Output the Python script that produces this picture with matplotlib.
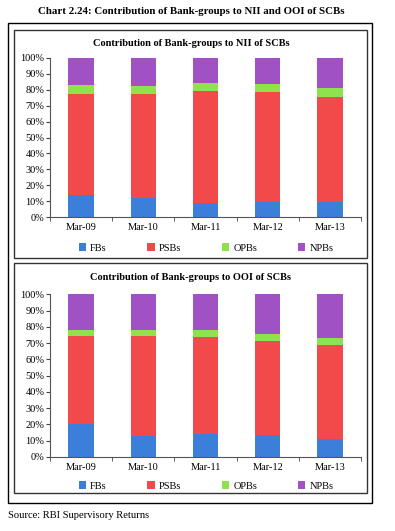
import matplotlib
matplotlib.use("Agg")
import matplotlib.pyplot as plt
from matplotlib.patches import Rectangle
import numpy as np

plt.rcParams['font.family'] = ['Liberation Serif', 'DejaVu Serif']

categories = ["Mar-09", "Mar-10", "Mar-11", "Mar-12", "Mar-13"]
series = ["FBs", "PSBs", "OPBs", "NPBs"]

# NII shares (%)
nii_fbs = [14.0, 12.3, 9.1, 9.3, 9.8]
nii_psbs = [63.5, 65.2, 69.9, 69.2, 65.8]
nii_opbs = [5.2, 4.8, 5.0, 4.8, 5.2]
nii_npbs = [17.3, 17.7, 16.0, 16.7, 19.2]

# OOI shares (%)
ooi_fbs = [20.1, 12.9, 14.1, 13.3, 11.3]
ooi_psbs = [54.5, 61.5, 59.5, 58.0, 57.6]
ooi_opbs = [3.7, 3.9, 4.3, 4.1, 4.5]
ooi_npbs = [21.7, 21.7, 22.1, 24.6, 26.6]

colors = ["#3b7fdb", "#f24a4a", "#8ee24e", "#a052c4"]

fig = plt.figure(figsize=(3.95, 5.31), dpi=100)
W, H = 395.0, 531.0

def fx(x): return x / W
def fy(y): return 1 - y / H

# outer frame and panel boxes
fig.patches.append(Rectangle((fx(8), fy(503)), fx(372) - fx(8), fy(23) - fy(503),
                             transform=fig.transFigure, fill=False, edgecolor="black", lw=1.0))
fig.patches.append(Rectangle((fx(14), fy(258)), fx(367) - fx(14), fy(30) - fy(258),
                             transform=fig.transFigure, fill=False, edgecolor="#333333", lw=1.0))
fig.patches.append(Rectangle((fx(14), fy(493)), fx(367) - fx(14), fy(263) - fy(493),
                             transform=fig.transFigure, fill=False, edgecolor="#333333", lw=1.0))

fig.text(fx(191), fy(11), "Chart 2.24: Contribution of Bank-groups to NII and OOI of SCBs",
         ha="center", va="center", fontsize=7.8, fontweight="bold")
fig.text(fx(8), fy(515), "Source: RBI Supervisory Returns", ha="left", va="center", fontsize=7.6)

def draw(ax_rect, title, title_y, legend_y, data):
    ax = fig.add_axes(ax_rect)
    x = np.arange(len(categories))
    bottom = np.zeros(len(categories))
    handles = []
    for vals, c, name in zip(data, colors, series):
        b = ax.bar(x, vals, width=0.41, bottom=bottom, color=c, label=name,
                   edgecolor="none")
        handles.append(b)
        bottom = bottom + np.array(vals)
    ax.set_xlim(-0.5, len(categories) - 0.5)
    ax.set_ylim(0, 100)
    ax.set_yticks(np.arange(0, 101, 10))
    ax.set_yticklabels([f"{v}%" for v in range(0, 101, 10)], fontsize=7.5)
    ax.set_xticks(x)
    ax.set_xticklabels(categories, fontsize=7.5)
    ax.set_xticks(np.arange(-0.5, len(categories), 1), minor=True)
    ax.tick_params(axis="x", which="major", length=0, pad=4)
    ax.tick_params(axis="x", which="minor", length=3, color="#444444")
    ax.tick_params(axis="y", length=3, pad=1, color="#444444")
    for s in ["top", "right"]:
        ax.spines[s].set_visible(False)
    for s in ["left", "bottom"]:
        ax.spines[s].set_color("#555555")
        ax.spines[s].set_linewidth(0.8)
    fig.text(fx(191), fy(title_y), title, ha="center", va="center",
             fontsize=7.5, fontweight="bold")
    fig.legend(handles=handles, labels=series, loc="center",
               bbox_to_anchor=(fx(206), fy(legend_y)), ncol=4, frameon=False,
               fontsize=7.5, handlelength=0.7, handleheight=0.7,
               columnspacing=3.9, handletextpad=0.4)
    return ax

nii = [nii_fbs, nii_psbs, nii_opbs, nii_npbs]
ooi = [ooi_fbs, ooi_psbs, ooi_opbs, ooi_npbs]

draw([fx(50), fy(217.3), fx(361) - fx(50), fy(57.7) - fy(217.3)],
     "Contribution of Bank-groups to NII of SCBs", 44, 248, nii)
draw([fx(50), fy(457), fx(361) - fx(50), fy(294.3) - fy(457)],
     "Contribution of Bank-groups to OOI of SCBs", 277, 486, ooi)

fig.savefig("out.png", dpi=100)
